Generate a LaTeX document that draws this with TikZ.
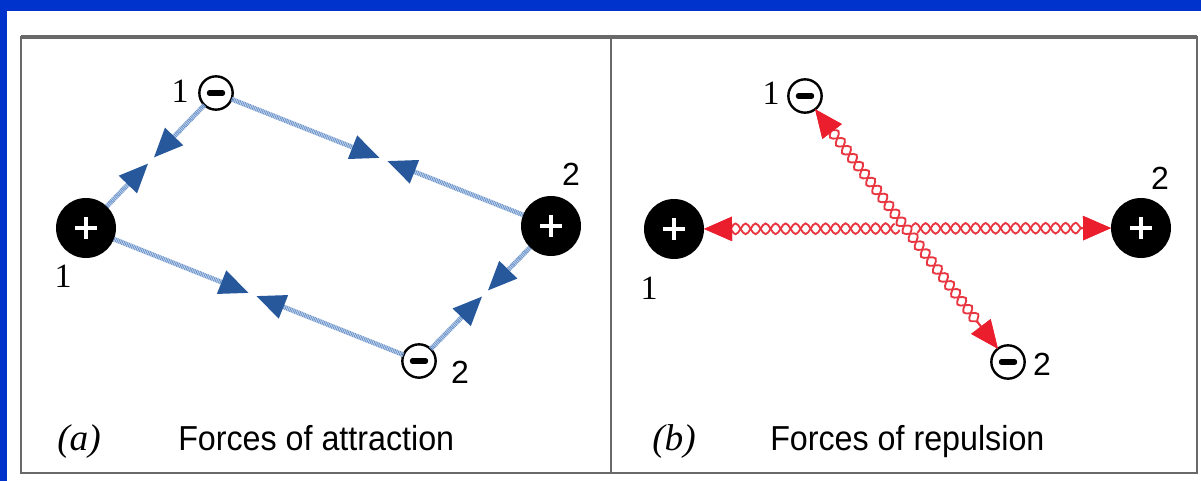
\documentclass[tikz,border=0pt]{standalone}
\usepackage{fontspec}
\setmainfont{Liberation Serif}
\setsansfont{Liberation Sans}
\usetikzlibrary{arrows.meta,decorations.pathmorphing,calc}
\definecolor{bgblue}{RGB}{0,51,204}
\definecolor{framegray}{RGB}{105,105,105}
\definecolor{lineblue}{RGB}{110,150,205}
\definecolor{headblue}{RGB}{38,88,155}
\definecolor{chainred}{RGB}{232,55,65}
\definecolor{headred}{RGB}{235,30,45}
\begin{document}
\begin{tikzpicture}[x=0.75pt,y=-0.75pt,
  poscharge/.style={circle, fill=black, minimum size=45pt, inner sep=0pt, outer sep=0pt,
    path picture={
      \draw[white,line width=3pt] ([xshift=-8pt]path picture bounding box.center) -- ([xshift=8pt]path picture bounding box.center);
      \draw[white,line width=3pt] ([yshift=-8pt]path picture bounding box.center) -- ([yshift=8pt]path picture bounding box.center);}},
  negcharge/.style={circle, draw=black, line width=1.8pt, fill=white, minimum size=25pt, inner sep=0pt, outer sep=0pt,
    path picture={
      \draw[black,line width=3.8pt,line cap=round] ([xshift=-5pt]path picture bounding box.center) -- ([xshift=5pt]path picture bounding box.center);}},
  numsans/.style={font=\sffamily\fontsize{24}{24}\selectfont, inner sep=0pt},
  numserif/.style={font=\rmfamily\fontsize{25.5}{25.5}\selectfont, inner sep=0pt},
  caption/.style={font=\sffamily\fontsize{26}{26}\selectfont, inner sep=0pt, xscale=0.93, anchor=base west},
  tag/.style={font=\rmfamily\itshape\fontsize{28}{28}\selectfont, inner sep=0pt, anchor=base west},
  frame/.style={draw=framegray, line width=2pt},
  attract/.style={draw=lineblue, line width=3.6pt, dash pattern=on 0.8pt off 0.5pt,
    -{Triangle[length=22pt,width=18pt,color=headblue]}, shorten >=3pt},
  chain/.style={draw=chainred, line width=1.4pt, decorate,
    decoration={snake, amplitude=4pt, segment length=15pt, pre length=19pt, post length=19pt},
    {Triangle[length=21pt,width=18pt,color=headred]}-{Triangle[length=21pt,width=18pt,color=headred]}},
  chainm/.style={chain, decoration={mirror}}
]
\useasboundingbox (0,0) rectangle (1201,481);
\fill[bgblue] (0,0) rectangle (1201,481);
\fill[white] (7,11) rectangle (1201,481);

% frame
\draw[frame] (21,37) rectangle (1197,473);
\draw[frame] (611,37) -- (611,473);
\draw[framegray, line width=2.6pt] (21,37) -- (1197,37);

% ---------- panel (a) ----------
\node[poscharge] (Ap1) at (86,228) {};
\node[negcharge] (Am1) at (216,93) {};
\node[poscharge] (Ap2) at (551,226) {};
\node[negcharge] (Am2) at (419,361) {};

\coordinate (AmidL) at ($(Am1)!0.5!(Ap1)$);
\coordinate (AmidT) at ($(Am1)!0.5!(Ap2)$);
\coordinate (AmidB) at ($(Ap1)!0.5!(Am2)$);
\coordinate (AmidR) at ($(Ap2)!0.5!(Am2)$);

\draw[attract] (Am1) -- (AmidL);
\draw[attract] (Ap1) -- (AmidL);
\draw[attract] (Am1) -- (AmidT);
\draw[attract] (Ap2) -- (AmidT);
\draw[attract] (Ap1) -- (AmidB);
\draw[attract] (Am2) -- (AmidB);
\draw[attract] (Ap2) -- (AmidR);
\draw[attract] (Am2) -- (AmidR);

\node[numserif] (Al1) at (63,276) {1};
\node[numserif] (Al1m) at (180,91) {1};
\node[numsans] (Al2) at (571,174) {2};
\node[numsans] (Al2m) at (460,372) {2};

\node[tag] (Atag) at (57,450) {(a)};
\node[caption] (Acap) at (178,450) {Forces of attraction};

% ---------- panel (b) ----------
\node[poscharge] (Bp1) at (674,229) {};
\node[negcharge] (Bm1) at (805,96) {};
\node[poscharge] (Bp2) at (1141,228) {};
\node[negcharge] (Bm2) at (1008,362) {};

\draw[chain] (Bp1) -- (Bp2);
\draw[chainm] (Bp1) -- (Bp2);
\coordinate (Bx1) at ($(Bm1)!0.45!(Bm2)$);
\coordinate (Bx2) at ($(Bm1)!0.55!(Bm2)$);
\draw[white, line width=9pt] (Bx1) -- (Bx2);
\draw[chain] (Bm1) -- (Bm2);
\draw[chainm] (Bm1) -- (Bm2);

\node[numserif] (Bl1) at (649,288) {1};
\node[numserif] (Bl1m) at (771,93) {1};
\node[numsans] (Bl2) at (1160,178) {2};
\node[numsans] (Bl2m) at (1042,364) {2};

\node[tag] (Btag) at (652,450) {(b)};
\node[caption] (Bcap) at (770,450) {Forces of repulsion};
\end{tikzpicture}
\end{document}
